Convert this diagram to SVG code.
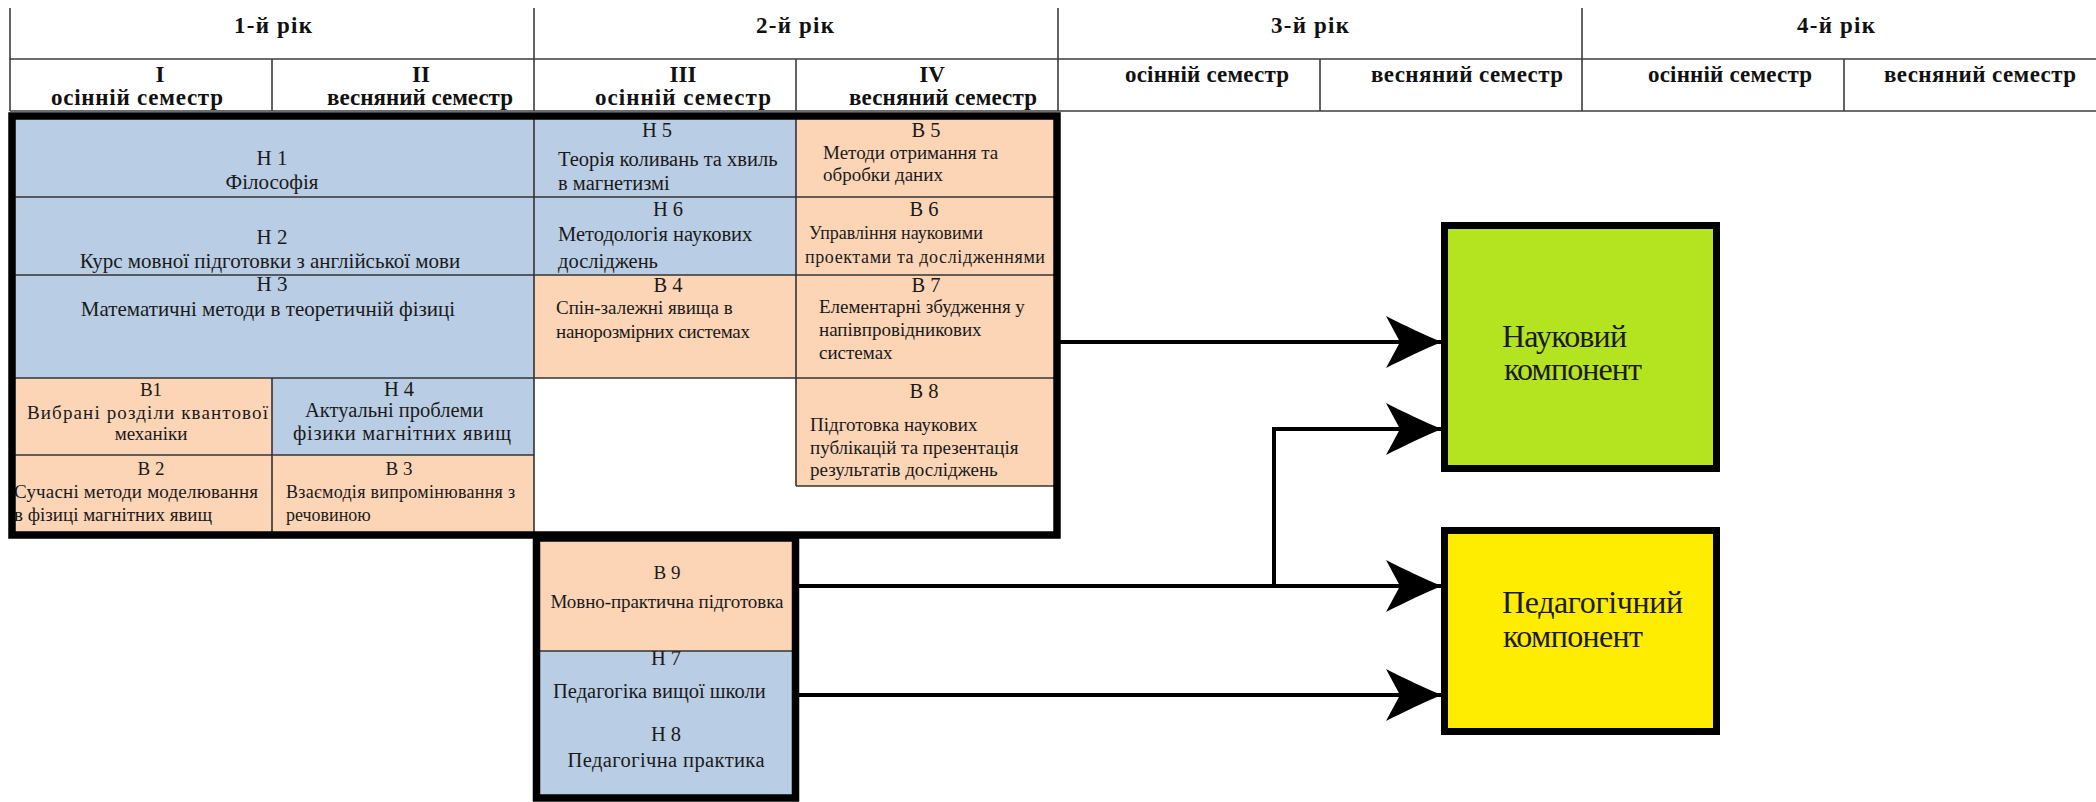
<svg xmlns="http://www.w3.org/2000/svg" width="2096" height="802" viewBox="0 0 2096 802">
<defs>
<style>
.hdr{font-family:"Liberation Serif","Times New Roman",serif;font-weight:bold;fill:#111;}
.yr{font-size:23px;text-anchor:middle;}
.num{font-size:23px;text-anchor:middle;}
.sem{font-size:23px;text-anchor:middle;}
.t{font-family:"Liberation Serif","Times New Roman",serif;fill:#1a1a1a;}
.t21{font-size:21px;}
.t20{font-size:20.5px;}
.t19{font-size:19px;}
.t18{font-size:18px;}
.c{text-anchor:middle;}
.big{font-family:"Liberation Serif","Times New Roman",serif;font-size:32px;fill:#1a1a1a;}
.grid{stroke:#3c3c3c;stroke-width:1.6;fill:none;}
.blue{fill:#b9cde4;}
.peach{fill:#fbd5b6;}
.cellline{stroke:#333;stroke-width:1.6;}
.thick{fill:none;stroke:#000;stroke-width:7.5;}
.conn{fill:none;stroke:#000;stroke-width:4;}
</style>
<marker id="ah" markerUnits="userSpaceOnUse" viewBox="-60 -30 62 60" refX="0" refY="0" markerWidth="62" markerHeight="60" orient="auto">
<path d="M0,0 C-18,-7 -38,-17 -56,-26 L-42,0 L-56,26 C-38,17 -18,7 0,0 Z" fill="#000"/>
</marker>
</defs>
<rect x="0" y="0" width="2096" height="802" fill="#fff"/>

<g id="header">
<line class="grid" x1="10" y1="59" x2="2096" y2="59"/>
<line class="grid" x1="10" y1="111" x2="2096" y2="111"/>
<line class="grid" x1="10" y1="8" x2="10" y2="111"/>
<line class="grid" x1="534" y1="8" x2="534" y2="111"/>
<line class="grid" x1="1058" y1="8" x2="1058" y2="111"/>
<line class="grid" x1="1582" y1="8" x2="1582" y2="111"/>
<line class="grid" x1="272" y1="59" x2="272" y2="111"/>
<line class="grid" x1="796" y1="59" x2="796" y2="111"/>
<line class="grid" x1="1320" y1="59" x2="1320" y2="111"/>
<line class="grid" x1="1844" y1="59" x2="1844" y2="111"/>
<text class="hdr yr" x="273" y="33" textLength="78">1-й рік</text>
<text class="hdr yr" x="795" y="33" textLength="78">2-й рік</text>
<text class="hdr yr" x="1310" y="33" textLength="78">3-й рік</text>
<text class="hdr yr" x="1836" y="33" textLength="78">4-й рік</text>
<text class="hdr num" x="160" y="82">I</text>
<text class="hdr num" x="421" y="82">II</text>
<text class="hdr num" x="683" y="82">III</text>
<text class="hdr num" x="932" y="82">IV</text>
<text class="hdr sem" x="137" y="105" textLength="172">осінній семестр</text>
<text class="hdr sem" x="420" y="105" textLength="186">весняний семестр</text>
<text class="hdr sem" x="683" y="105" textLength="176">осінній семестр</text>
<text class="hdr sem" x="943" y="105" textLength="188">весняний семестр</text>
<text class="hdr sem" x="1207" y="82" textLength="164">осінній семестр</text>
<text class="hdr sem" x="1467" y="82" textLength="192">весняний семестр</text>
<text class="hdr sem" x="1730" y="82" textLength="164">осінній семестр</text>
<text class="hdr sem" x="1980" y="82" textLength="192">весняний семестр</text>
</g>

<g id="H1">
<rect class="blue" x="12" y="116" width="522" height="81"/>
<text class="t t21 c" x="272" y="165">Н 1</text>
<text class="t t21 c" x="272" y="189">Філософія</text>
</g>
<g id="H2">
<rect class="blue" x="12" y="197" width="522" height="78"/>
<text class="t t21 c" x="272" y="244">Н 2</text>
<text class="t t21 c" x="270" y="268">Курс мовної підготовки з англійської мови</text>
</g>
<g id="H3">
<rect class="blue" x="12" y="275" width="522" height="103"/>
<text class="t t21 c" x="272" y="291">Н 3</text>
<text class="t t21 c" x="268" y="316">Математичні методи в теоретичній фізиці</text>
</g>
<g id="B1">
<rect class="peach" x="12" y="378" width="260" height="77"/>
<text class="t t19 c" x="151" y="396">В1</text>
<text class="t t19" x="27" y="419" textLength="241">Вибрані  розділи  квантової</text>
<text class="t t19 c" x="151" y="440">механіки</text>
</g>
<g id="H4">
<rect class="blue" x="272" y="378" width="262" height="77"/>
<text class="t t20 c" x="399" y="396">Н 4</text>
<text class="t t20" x="305" y="417">Актуальні проблеми</text>
<text class="t t20" x="293" y="440" textLength="218">фізики магнітних явищ</text>
</g>
<g id="B2">
<rect class="peach" x="12" y="455" width="260" height="80"/>
<text class="t t19 c" x="151" y="475">В 2</text>
<text class="t t19" x="14" y="498" textLength="244">Сучасні методи моделювання</text>
<text class="t t19" x="14" y="521">в фізиці магнітних явищ</text>
</g>
<g id="B3">
<rect class="peach" x="272" y="455" width="262" height="80"/>
<text class="t t19 c" x="399" y="475">В 3</text>
<text class="t t18" x="286" y="498" textLength="229">Взаємодія випромінювання з</text>
<text class="t t18" x="286" y="521">речовиною</text>
</g>
<g id="H5">
<rect class="blue" x="534" y="116" width="262" height="81"/>
<text class="t t20 c" x="657" y="137">Н 5</text>
<text class="t t20" x="558" y="166">Теорія коливань та хвиль</text>
<text class="t t20" x="558" y="190">в магнетизмі</text>
</g>
<g id="B5">
<rect class="peach" x="796" y="116" width="261" height="81"/>
<text class="t t20 c" x="926" y="137">В 5</text>
<text class="t t19" x="823" y="159">Методи отримання та</text>
<text class="t t19" x="823" y="181">обробки даних</text>
</g>
<g id="H6">
<rect class="blue" x="534" y="197" width="262" height="78"/>
<text class="t t20 c" x="668" y="216">Н 6</text>
<text class="t t20" x="558" y="241">Методологія наукових</text>
<text class="t t20" x="558" y="268">досліджень</text>
</g>
<g id="B6">
<rect class="peach" x="796" y="197" width="261" height="78"/>
<text class="t t20 c" x="924" y="216">В 6</text>
<text class="t t18" x="809" y="239">Управління науковими</text>
<text class="t t18" x="805" y="263" textLength="240">проектами та дослідженнями</text>
</g>
<g id="B4">
<rect class="peach" x="534" y="275" width="262" height="103"/>
<text class="t t20 c" x="668" y="292">В 4</text>
<text class="t t19" x="556" y="314">Спін-залежні явища в</text>
<text class="t t19" x="556" y="338" textLength="194">нанорозмірних системах</text>
</g>
<g id="B7">
<rect class="peach" x="796" y="275" width="261" height="103"/>
<text class="t t20 c" x="926" y="292">В 7</text>
<text class="t t19" x="819" y="313">Елементарні збудження у</text>
<text class="t t19" x="819" y="336">напівпровідникових</text>
<text class="t t19" x="819" y="359">системах</text>
</g>
<g id="B8">
<rect class="peach" x="796" y="378" width="261" height="108"/>
<text class="t t20 c" x="924" y="398">В 8</text>
<text class="t t19" x="810" y="431">Підготовка наукових</text>
<text class="t t19" x="810" y="454">публікацій та презентація</text>
<text class="t t19" x="810" y="476">результатів досліджень</text>
</g>

<g id="grid-lines">
<line class="cellline" x1="12" y1="197" x2="1057" y2="197"/>
<line class="cellline" x1="12" y1="275" x2="1057" y2="275"/>
<line class="cellline" x1="12" y1="378" x2="1057" y2="378"/>
<line class="cellline" x1="12" y1="455" x2="534" y2="455"/>
<line class="cellline" x1="796" y1="486" x2="1057" y2="486"/>
<line class="cellline" x1="272" y1="378" x2="272" y2="535"/>
<line class="cellline" x1="534" y1="116" x2="534" y2="535"/>
<line class="cellline" x1="796" y1="116" x2="796" y2="486"/>
</g>
<rect id="block1-frame" class="thick" x="12" y="116" width="1045" height="419"/>

<g id="B9">
<rect class="peach" x="537" y="538" width="258" height="113"/>
<text class="t t19 c" x="667" y="579">В 9</text>
<text class="t t19 c" x="667" y="608" textLength="233">Мовно-практична підготовка</text>
</g>
<g id="H7H8">
<rect class="blue" x="537" y="651" width="258" height="147"/>
<text class="t t20 c" x="666" y="665">Н 7</text>
<text class="t t20" x="553" y="698">Педагогіка вищої школи</text>
<text class="t t20 c" x="666" y="741">Н 8</text>
<text class="t t20 c" x="666" y="767" textLength="197">Педагогічна практика</text>
</g>
<line class="cellline" x1="537" y1="651" x2="795" y2="651"/>
<rect id="block2-frame" class="thick" x="536.5" y="538" width="259" height="260"/>

<g id="connectors">
<path class="conn" d="M1060,342 H1442" marker-end="url(#ah)"/>
<path class="conn" d="M799,586 H1442" marker-end="url(#ah)"/>
<path class="conn" d="M1274,586 V429 H1442" marker-end="url(#ah)"/>
<path class="conn" d="M799,695 H1442" marker-end="url(#ah)"/>
</g>

<g id="science">
<rect x="1444.5" y="225.5" width="272" height="243" fill="#b4e31f" stroke="#000" stroke-width="7"/>
<text class="big" x="1502" y="347" textLength="125">Науковий</text>
<text class="big" x="1504" y="380" textLength="138">компонент</text>
</g>
<g id="pedagogy">
<rect x="1444.5" y="530.5" width="272" height="201" fill="#ffed00" stroke="#000" stroke-width="7"/>
<text class="big" x="1502" y="613" textLength="181">Педагогічний</text>
<text class="big" x="1503" y="647" textLength="140">компонент</text>
</g>
</svg>
